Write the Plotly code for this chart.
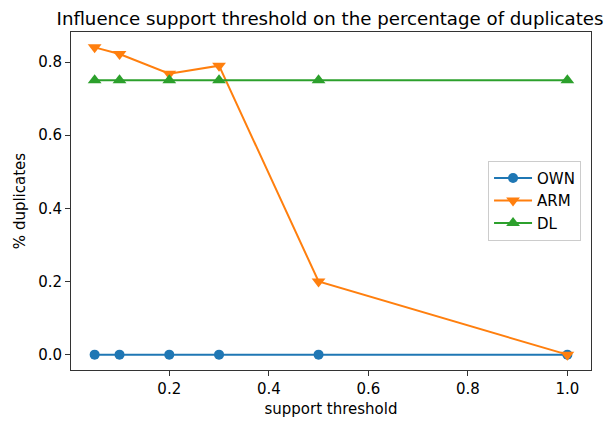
import plotly.graph_objects as go

thresholds = [0.05, 0.1, 0.2, 0.3, 0.5, 1.0]
own = [0.0, 0.0, 0.0, 0.0, 0.0, 0.0]
arm = [0.84, 0.822, 0.768, 0.79, 0.2, 0.0]
dl = [0.75, 0.75, 0.75, 0.75, 0.75, 0.75]

series = [
    ("OWN", own, "#1f77b4", "circle", 10),
    ("ARM", arm, "#ff7f0e", "triangle-down", 12),
    ("DL", dl, "#2ca02c", "triangle-up", 12),
]

fig = go.Figure()
for name, vals, color, sym, ms in series:
    fig.add_trace(go.Scatter(
        x=thresholds, y=vals, name=name, mode="lines+markers",
        line=dict(color=color, width=2),
        marker=dict(color=color, symbol=sym, size=ms),
    ))

font = "DejaVu Sans"
W, H = 604, 415
axis_common = dict(
    showline=True, linecolor="#333333", linewidth=1, mirror=True,
    ticks="outside", ticklen=5, tickcolor="#333333", showgrid=False,
    zeroline=False, automargin=False,
    tickfont=dict(family=font, size=15, color="black"),
)
fig.update_layout(
    width=W, height=H,
    margin=dict(l=63, r=21, t=24, b=53),
    paper_bgcolor="white", plot_bgcolor="white",
    title=dict(text="Influence support threshold on the percentage of duplicates",
               x=322 / W, xanchor="center", y=1 - 10.5 / H, yanchor="middle",
               font=dict(family=font, size=18.2, color="black")),
    xaxis=dict(range=[0.0025, 1.0475], tickvals=[0.2, 0.4, 0.6, 0.8, 1.0],
               ticktext=["0.2", "0.4", "0.6", "0.8", "1.0"],
               title=dict(text="support threshold", font=dict(family=font, size=15, color="black"), standoff=6),
               **axis_common),
    yaxis=dict(range=[-0.042, 0.882], tickvals=[0.0, 0.2, 0.4, 0.6, 0.8],
               ticktext=["0.0", "0.2", "0.4", "0.6", "0.8"],
               title=dict(text="% duplicates", font=dict(family=font, size=15, color="black"), standoff=8),
               **axis_common),
    legend=dict(x=0.802, y=0.619, xanchor="left", yanchor="top",
                bordercolor="#cccccc", borderwidth=1, bgcolor="rgba(255,255,255,0.8)",
                font=dict(family=font, size=15, color="black"), itemwidth=38,
                tracegroupgap=2),
    showlegend=True,
)
fig.write_html("out.html")
